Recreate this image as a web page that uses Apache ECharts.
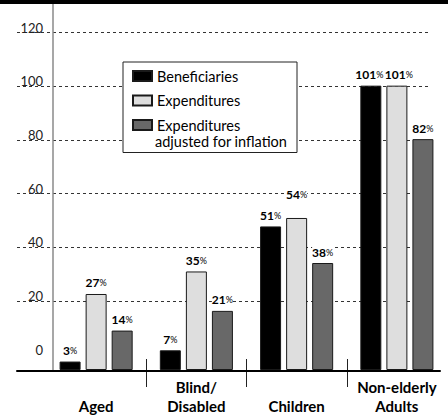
<!DOCTYPE html>
<html>
<head>
<meta charset="utf-8">
<script src="https://cdn.jsdelivr.net/npm/echarts@6/dist/echarts.min.js"></script>
<style>
  html, body { margin: 0; padding: 0; background: #fff; }
  #chart { width: 448px; height: 415px; }
</style>
</head>
<body>
<div id="chart"></div>
<script>
// Growth by eligibility group, percent
const categories = ['Aged', 'Blind/\nDisabled', 'Children', 'Non-elderly\nAdults'];
const seriesNames = ['Beneficiaries', 'Expenditures', 'Expenditures\nadjusted for inflation'];
const beneficiaries = [3, 7, 51, 101];
const expenditures = [27, 35, 54, 101];
const expendituresReal = [14, 21, 38, 82];
const yTicks = [0, 20, 40, 60, 80, 100, 120];

const FONT = 'Lato, "Liberation Sans", Arial, sans-serif';
const LEGEND_SIZE = 14.5;
const fills = ['#000000', '#dedede', '#686868'];

const chart = echarts.init(document.getElementById('chart'), null, { renderer: 'svg' });

// per-bar label nudges [dx, dy] so neighbouring labels keep clear of each other
function withLabelShift(values, shifts) {
  return values.map((v, i) => shifts[i] ? { value: v, label: { offset: shifts[i] } } : v);
}

function barSeries(name, values, idx) {
  return {
    name: name,
    type: 'bar',
    xAxisIndex: 1,
    yAxisIndex: 1,
    barWidth: 21,
    barGap: '24%',
    data: values,
    itemStyle: { color: fills[idx], borderColor: '#1a1a1a', borderWidth: 1 },
    label: {
      show: true,
      position: 'top',
      distance: 5,
      backgroundColor: '#fff',
      padding: 0,
      formatter: p => '{v|' + p.value + '}{p|%}',
      rich: {
        v: { fontFamily: FONT, fontWeight: 'bold', fontSize: 12, color: '#000' },
        p: { fontFamily: FONT, fontWeight: 'normal', fontSize: 9, color: '#000' }
      }
    },
    emphasis: { disabled: true }
  };
}

const option = {
  animation: false,
  backgroundColor: '#fff',
  textStyle: { fontFamily: FONT },
  grid: [
    // dashed reference rules with their values
    { left: 17, right: 19, top: 32.7, bottom: 60.3 },
    // bars
    { left: 46, right: 1, top: 4, bottom: 44 },
    // group separators below the baseline
    { left: 46, right: 1, top: 359, height: 28 },
    // baseline
    { left: 17, right: 8, top: 300, bottom: 44 }
  ],
  xAxis: [
    { gridIndex: 0, type: 'value', show: false },
    {
      gridIndex: 1, type: 'category', data: categories,
      axisLine: { show: false }, axisTick: { show: false },
      axisLabel: {
        interval: 0, margin: 45, verticalAlign: 'bottom',
        fontFamily: FONT, fontWeight: 'bold', fontSize: 15, lineHeight: 19, color: '#000'
      }
    },
    {
      gridIndex: 2, type: 'category', data: categories,
      axisLine: { show: false }, axisTick: { show: false }, axisLabel: { show: false },
      splitLine: {
        show: true, showMinLine: false, showMaxLine: false,
        lineStyle: { color: '#222', width: 1, type: 'solid' }
      }
    },
    {
      gridIndex: 3, type: 'value', min: 0, max: 1,
      axisLine: { show: true, lineStyle: { color: '#000', width: 2 } },
      axisTick: { show: false }, axisLabel: { show: false }, splitLine: { show: false }
    }
  ],
  yAxis: [
    {
      gridIndex: 0, type: 'value',
      min: yTicks[0], max: yTicks[yTicks.length - 1], interval: yTicks[1] - yTicks[0],
      offset: -36,
      axisLine: { show: false }, axisTick: { show: false },
      axisLabel: {
        margin: 10, align: 'right', verticalAlign: 'bottom', lineHeight: 10,
        fontFamily: FONT, fontSize: 13, color: '#222'
      },
      splitLine: {
        show: true, showMinLine: false,
        lineStyle: { color: '#333', width: 1, type: [3, 3] }
      }
    },
    {
      gridIndex: 1, type: 'value', min: 0, max: 130,
      offset: -6.7,
      axisLine: { show: true, lineStyle: { color: '#8a8a8a', width: 1.5 } },
      axisTick: { show: false }, axisLabel: { show: false }, splitLine: { show: false }
    },
    { gridIndex: 2, type: 'value', show: false, splitLine: { show: false } },
    { gridIndex: 3, type: 'value', show: false, splitLine: { show: false } }
  ],
  legend: {
    orient: 'vertical',
    left: 123,
    top: 62,
    icon: 'rect',
    itemWidth: 19,
    itemHeight: 10,
    itemGap: 9.5,
    itemTextGap: 4,
    padding: [6.5, 2, 20, 9],
    borderColor: '#222',
    borderWidth: 1,
    backgroundColor: '#fff',
    selectedMode: false,
    data: seriesNames,
    formatter: name => name.split('\n')[0],
    textStyle: { fontFamily: FONT, fontSize: LEGEND_SIZE, lineHeight: 15, color: '#000', width: 138 }
  },
  graphic: [
    { type: 'rect', left: 0, top: 0, z: 50, shape: { width: 448, height: 4 }, style: { fill: '#000' } },
    {
      // second line of the third legend entry
      type: 'text', left: 155, top: 134, z: 100,
      style: { text: seriesNames[2].split('\n')[1], font: LEGEND_SIZE + 'px ' + FONT, fill: '#000' }
    }
  ],
  series: [
    barSeries(seriesNames[0], withLabelShift(beneficiaries, { 3: [-1.5, 0] }), 0),
    barSeries(seriesNames[1], withLabelShift(expenditures, { 2: [0, -12], 3: [2, 0] }), 1),
    barSeries(seriesNames[2], expendituresReal, 2)
  ]
};

chart.setOption(option);
</script>
</body>
</html>
